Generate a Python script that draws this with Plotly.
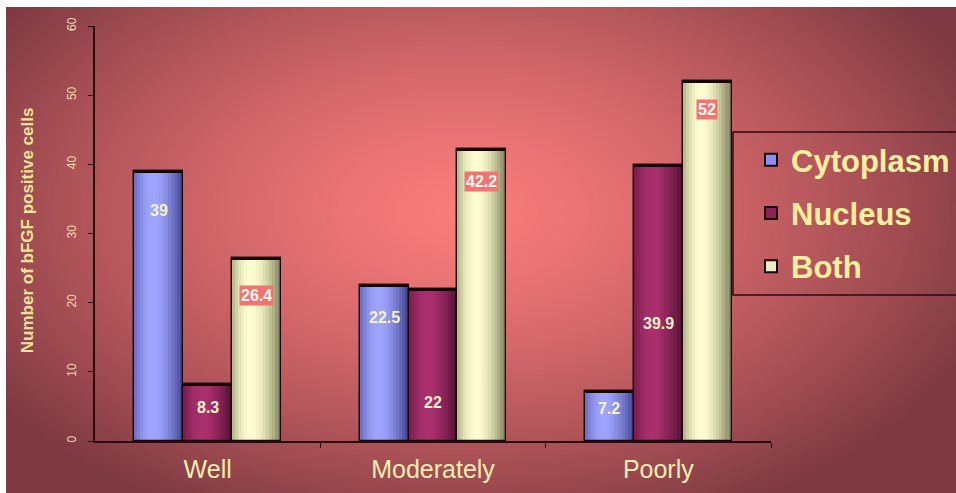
import base64, struct, zlib
import numpy as np
import plotly.graph_objects as go

# ---------------- data ----------------
categories = ["Well", "Moderately", "Poorly"]
series_names = ["Cytoplasm", "Nucleus", "Both"]
cytoplasm = [39, 22.5, 7.2]
nucleus = [8.3, 22, 39.9]
both = [26.4, 42.2, 52]
value_labels = [["39", "22.5", "7.2"], ["8.3", "22", "39.9"], ["26.4", "42.2", "52"]]
y_ticks = [0, 10, 20, 30, 40, 50, 60]

# label heights (data units) as placed in the original
label_pos = [[33.3, 17.8, 4.7], [4.9, 5.6, 17.0], [21.1, 37.5, 47.9]]

series_values = [cytoplasm, nucleus, both]

# ---------------- style ----------------
W, H = 956, 493
ML, MR, MT, MB = 95, 185, 26, 52
PW, PH = W - ML - MR, H - MT - MB
FONT = "Arial, Liberation Sans, sans-serif"

base_cols = ["#8890f0", "#8a2458", "#ececc0"]
dark_cols = [(62, 66, 140), (80, 16, 50), (124, 126, 86)]
light_cols = [(160, 166, 255), (170, 48, 110), (255, 254, 210)]
bar_w = 0.217
offsets = [-bar_w, 0.0, bar_w]
N_STRIPES = 16


def png_data_uri(arr):
    h, w, _ = arr.shape
    raw = b"".join(b"\x00" + arr[r].tobytes() for r in range(h))
    def chunk(t, d):
        c = struct.pack(">I", len(d)) + t + d
        return c + struct.pack(">I", zlib.crc32(t + d) & 0xffffffff)
    png = b"\x89PNG\r\n\x1a\n" + chunk(b"IHDR", struct.pack(">IIBBBBB", w, h, 8, 2, 0, 0, 0)) \
        + chunk(b"IDAT", zlib.compress(raw, 9)) + chunk(b"IEND", b"")
    return "data:image/png;base64," + base64.b64encode(png).decode()


# radial gradient background (slightly larger than the canvas)
EXT = 8
IW, IH = W + EXT, H + EXT
yy, xx = np.mgrid[0:IH, 0:IW].astype(float)
cx, cy, rx, ry = 460.0, 210.0, 560.0, 340.0
d = np.sqrt(((xx - cx) / rx) ** 2 + ((yy - cy) / ry) ** 2)
t = np.clip(d, 0, 1) ** 1.35
c0 = np.array([250, 124, 124], float)
c1 = np.array([126, 58, 66], float)
img = (c0[None, None, :] * (1 - t[..., None]) + c1[None, None, :] * t[..., None])
img[:, :6, :] = 255
img[:7, :, :] = 255
img = img.clip(0, 255).astype(np.uint8)
bg_uri = png_data_uri(img)

fig = go.Figure()
xs_cat = np.arange(len(categories), dtype=float)

# solid base bars (legend entries)
for s, name in enumerate(series_names):
    fig.add_trace(go.Bar(
        x=xs_cat + offsets[s], y=series_values[s], width=bar_w, name=name,
        legendgroup=name, marker=dict(color=base_cols[s], line=dict(color="#1a0508", width=1.2)),
        hoverinfo="skip"))

# cylinder shading stripes
for s in range(3):
    for k in range(N_STRIPES):
        u = (k + 0.5) / N_STRIPES
        if u < 0.4:
            sh = 1 - ((0.4 - u) / 0.4) ** 2 * 0.6
        else:
            sh = 1 - ((u - 0.4) / 0.6) ** 1.6
        dc, lc = dark_cols[s], light_cols[s]
        col = "rgb(%d,%d,%d)" % tuple(int(dc[j] + (lc[j] - dc[j]) * sh) for j in range(3))
        fig.add_trace(go.Bar(
            x=xs_cat + offsets[s] - bar_w / 2 + u * bar_w, y=series_values[s],
            width=bar_w / N_STRIPES * 1.08, marker=dict(color=col, line=dict(width=0)),
            showlegend=False, hoverinfo="skip"))

# outlines and thick top caps
cap = 0.3
for s in range(3):
    fig.add_trace(go.Bar(
        x=xs_cat + offsets[s], y=series_values[s], width=bar_w,
        marker=dict(color="rgba(0,0,0,0)", line=dict(color="#1a0508", width=1.3)),
        showlegend=False, hoverinfo="skip"))
    fig.add_trace(go.Bar(
        x=xs_cat + offsets[s], y=[cap] * len(categories),
        base=[v - cap for v in series_values[s]], width=bar_w,
        marker=dict(color="#140406", line=dict(width=0)),
        showlegend=False, hoverinfo="skip"))

annotations = []
for s in range(3):
    for i in range(len(categories)):
        is_both = s == 2
        annotations.append(dict(
            x=xs_cat[i] + offsets[s], y=label_pos[s][i], xref="x", yref="y",
            text="<b>%s</b>" % value_labels[s][i], showarrow=False,
            font=dict(family=FONT, size=16, color="#fff8ee" if is_both else "#f6f2c4"),
            bgcolor="#f07474" if is_both else "rgba(0,0,0,0)", borderpad=1))

annotations.append(dict(
    x=(27 - ML) / PW, y=0.508, xref="paper", yref="paper", textangle=-90,
    text="<b>Number of bFGF positive cells</b>", showarrow=False,
    font=dict(family=FONT, size=17, color="#f0e49a"), xanchor="center", yanchor="middle"))

# legend frame (extends past the right edge, as in the original)
shapes = [dict(type="rect", xref="paper", yref="paper",
               x0=(733 - ML) / PW, x1=(965 - ML) / PW,
               y0=(441 - 295) / PH, y1=(441 - 132) / PH,
               line=dict(color="#2a0a10", width=1.5), fillcolor="rgba(0,0,0,0)")]

fig.update_layout(
    width=W, height=H, margin=dict(l=ML, r=MR, t=MT, b=MB, autoexpand=False),
    paper_bgcolor="#7e3a42", plot_bgcolor="rgba(0,0,0,0)",
    barmode="overlay", bargap=0,
    font=dict(family=FONT),
    images=[dict(source=bg_uri, xref="paper", yref="paper", x=-ML / PW, y=1 + MT / PH,
                 sizex=IW / PW, sizey=IH / PH, xanchor="left", yanchor="top",
                 sizing="stretch", layer="below")],
    shapes=shapes,
    xaxis=dict(range=[-0.5, len(categories) - 0.5], tickmode="array", tickvals=list(xs_cat),
               ticktext=categories, ticks="", showgrid=False, zeroline=False,
               showline=True, linecolor="#2a0a0e", linewidth=1.5,
               tickfont=dict(family=FONT, size=25, color="#f8eeb0"), ticklabelstandoff=5,
               minor=dict(tickmode="array", tickvals=[i + 0.5 for i in range(len(categories))],
                          ticks="outside", ticklen=5, tickcolor="#2a0a0e", tickwidth=1.2)),
    yaxis=dict(range=[0, 60], tickmode="array", tickvals=y_ticks, ticks="outside", ticklen=5,
               tickcolor="#2a0a0e", showline=True, linecolor="#2a0a0e", linewidth=1.5,
               showgrid=False, zeroline=False, tickangle=-90, ticklabelstandoff=7,
               tickfont=dict(family=FONT, size=12, color="#f0d8a8")),
    legend=dict(x=(751 - ML) / PW, y=(441 - 133) / PH, xanchor="left", yanchor="top",
                bgcolor="rgba(0,0,0,0)", borderwidth=0,
                font=dict(family=FONT, size=31, color="#fff0a0", weight="bold"),
                tracegroupgap=10, itemsizing="constant"),
    annotations=annotations,
    showlegend=True,
)

fig.write_html("out.html")
